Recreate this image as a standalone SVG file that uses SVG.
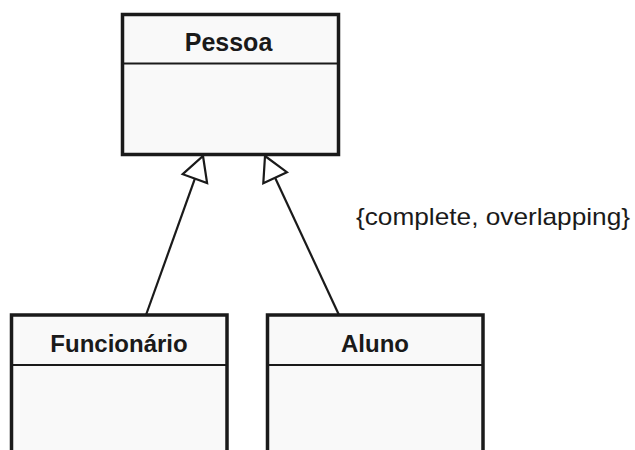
<svg xmlns="http://www.w3.org/2000/svg" width="635" height="450" viewBox="0 0 635 450">
<style>
.box{fill:#f9f9f9;stroke:#1a1a1a;stroke-width:3.5}
.div{stroke:#1a1a1a;stroke-width:2}
.name{font-family:"Liberation Sans",Arial,sans-serif;font-weight:bold;font-size:24px;fill:#1a1a1a;text-anchor:middle}
.edge{stroke:#1a1a1a;stroke-width:2.2;fill:none}
.head{fill:#ffffff;stroke:#1a1a1a;stroke-width:2.2;stroke-linejoin:miter}
.lbl{font-family:"Liberation Sans",Arial,sans-serif;font-size:24px;fill:#1a1a1a}
</style>
<rect width="635" height="450" fill="#ffffff"/>
<g id="Pessoa">
<rect class="box" x="122.5" y="14.5" width="216" height="140"/>
<line class="div" x1="122.5" y1="63.5" x2="338.5" y2="63.5"/>
<text class="name" x="228.5" y="51" style="font-size:25px">Pessoa</text>
</g>
<g id="Funcionario">
<rect class="box" x="11.5" y="315" width="215.5" height="160"/>
<line class="div" x1="11.5" y1="365" x2="227" y2="365"/>
<text class="name" x="119" y="352">Funcionário</text>
</g>
<g id="Aluno">
<rect class="box" x="267.5" y="315" width="215.5" height="160"/>
<line class="div" x1="267.5" y1="365" x2="483" y2="365"/>
<text class="name" x="375" y="352">Aluno</text>
</g>
<g id="connectors">
<line class="edge" x1="146" y1="315" x2="194.9" y2="178.6"/>
<polygon class="head" points="203,156 207.1,183 182.7,174.2"/>
<line class="edge" x1="339" y1="315" x2="275.1" y2="177.7"/>
<polygon class="head" points="265,156 286.9,172.2 263.3,183.2"/>
</g>
<text class="lbl" x="356" y="225" textLength="274" lengthAdjust="spacingAndGlyphs">{complete, overlapping}</text>
</svg>
